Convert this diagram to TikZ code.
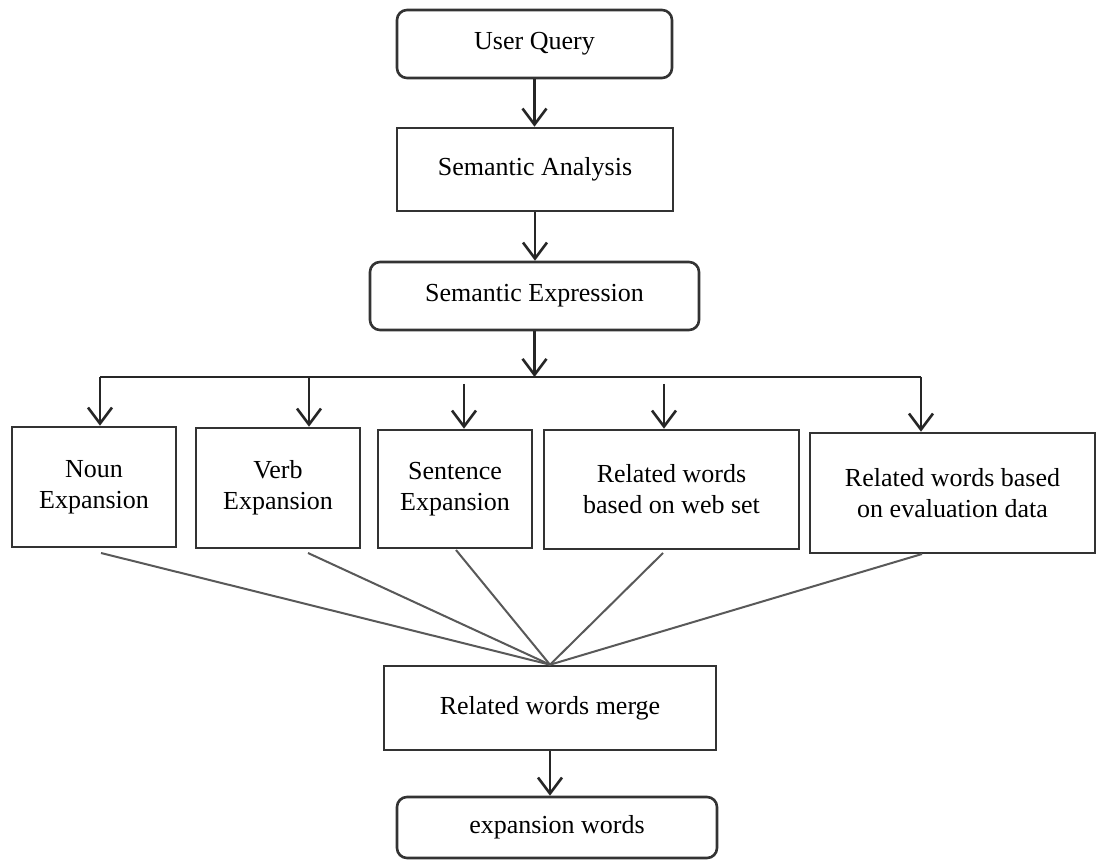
\documentclass[tikz,border=0pt]{standalone}
\usepackage{fontspec}
\setmainfont{Liberation Serif}
\usetikzlibrary{arrows.meta}
\newcommand{\diagfont}{\fontsize{13}{15.6}\selectfont}
\tikzset{
  box/.style={draw=black!80, line width=1.3pt, inner sep=0pt, align=center, font=\diagfont, fill=white},
  rbox/.style={box, rounded corners=5pt},
  arr/.style={draw=black!85, line width=1.3pt, -{Straight Barb[length=8pt,width=12pt]}},
  ln/.style={draw=black!85, line width=1.3pt},
  fan/.style={draw=black!65, line width=1pt}
}
\begin{document}
\begin{tikzpicture}[x=0.5pt,y=-0.5pt]
\useasboundingbox[fill=white] (0,0) rectangle (1097,860);
% nodes
\node[rbox, minimum width=137.5pt, minimum height=34pt] (uq) at (534.5,44) {User Query};
\node[box, minimum width=138pt, minimum height=41.5pt] (sa) at (535,169.5) {Semantic Analysis};
\node[rbox, minimum width=164.5pt, minimum height=34pt] (se) at (534.5,296) {Semantic Expression};
\node[box, minimum width=82pt, minimum height=60pt] (noun) at (94,487) {Noun\\Expansion};
\node[box, minimum width=82pt, minimum height=60pt] (verb) at (278,488) {Verb\\Expansion};
\node[box, minimum width=77pt, minimum height=59pt] (sent) at (455,489) {Sentence\\Expansion};
\node[box, minimum width=127.5pt, minimum height=59.5pt] (web) at (671.5,489.5) {Related words\\based on web set};
\node[box, minimum width=142.5pt, minimum height=60pt] (eval) at (952.5,493) {Related words based\\on evaluation data};
\node[box, minimum width=166pt, minimum height=42pt] (merge) at (550,708) {Related words merge};
\node[rbox, minimum width=160pt, minimum height=30.5pt] (exp) at (557,827.5) {expansion words};
% branch coordinates
\coordinate (hn) at (100,377);
\coordinate (hv) at (309,377);
\coordinate (hs) at (464,384);
\coordinate (hw) at (664,384);
\coordinate (he) at (921,377);
% fan start coordinates
\coordinate (fn) at (101,553);
\coordinate (fv) at (308,553);
\coordinate (fs) at (456,550);
\coordinate (fw) at (663,553);
\coordinate (fe) at (922,554);
% connectors
\draw[arr] (uq.south) -- (uq.south |- sa.north);
\draw[arr] (sa.south) -- (sa.south |- se.north);
\draw[ln] (hn) -- (he);
\draw[arr] (se.south) -- (se.south |- hn);
\draw[arr] (hn) -- (hn |- noun.north);
\draw[arr] (hv) -- (hv |- verb.north);
\draw[arr] (hs) -- (hs |- sent.north);
\draw[arr] (hw) -- (hw |- web.north);
\draw[arr] (he) -- (he |- eval.north);
\draw[fan] (fn) -- (merge.north);
\draw[fan] (fv) -- (merge.north);
\draw[fan] (fs) -- (merge.north);
\draw[fan] (fw) -- (merge.north);
\draw[fan] (fe) -- (merge.north);
\draw[arr] (merge.south) -- (merge.south |- exp.north);
\end{tikzpicture}
\end{document}
